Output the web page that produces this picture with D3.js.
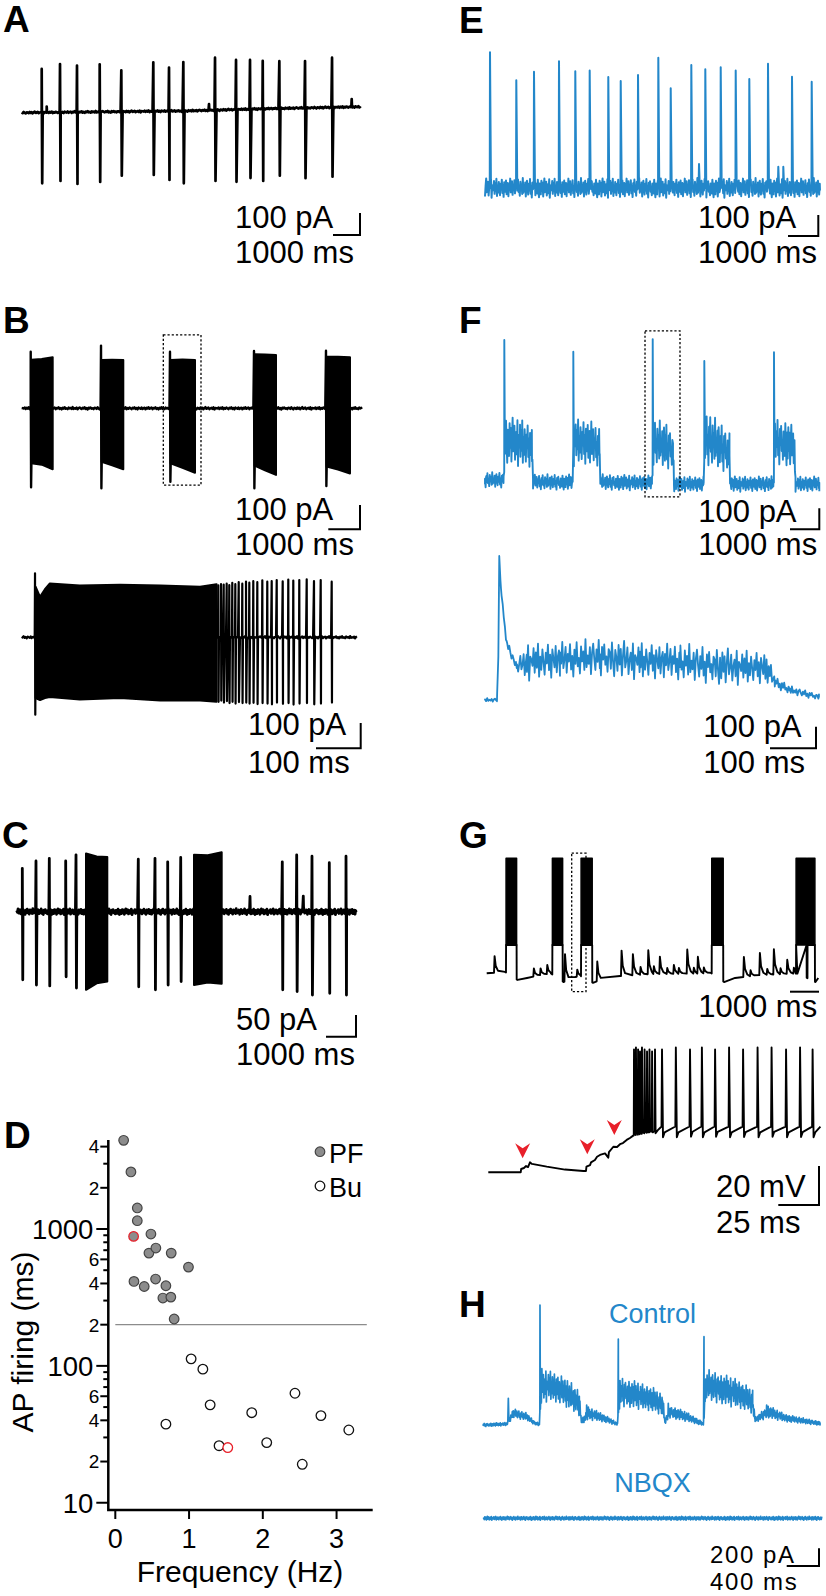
<!DOCTYPE html>
<html><head><meta charset="utf-8">
<script src="https://cdnjs.cloudflare.com/ajax/libs/d3/7.8.5/d3.min.js"></script>
<style>
body{margin:0;background:#fff}
text{font-family:"Liberation Sans",Arial,Helvetica,sans-serif}
</style></head><body>
<script>
// ---------------- DATA ----------------
// shared recording-noise texture (unitless, -1..1)
const noise = [0.32,-0.55,0.81,-0.18,-0.92,0.44,0.07,-0.63,0.71,-0.29,0.52,-0.84,0.19,0.95,-0.41,-0.06,0.63,-0.74,0.02,0.38,-0.51,0.86,-0.97,0.27,0.12,-0.22,0.69,-0.58,0.47,-0.33,0.91,-0.79,0.23,-0.45,0.6,-0.03,-0.71,0.42,-0.14,0.83,-0.49,0.31,-0.88,0.57,0.09,-0.36,0.74,-0.62,0.21,0.5,-0.81,0.39,-0.19,0.93,-0.43,0.01,0.66,-0.68,0.29,-0.11,0.78,-0.53,0.17,-0.9,0.48,-0.26,0.85,-0.39,0.04,-0.77,0.62,-0.16,0.35,-0.6,0.98,-0.47,0.13,-0.31,0.55,-0.85,0.26,0.72,-0.08,-0.65,0.41,-0.24,0.89,-0.57,0.15,-0.94,0.53,-0.12,0.67,-0.37,0.06,-0.72,0.45];

// Panel A (ms, pA)
const aEnd = 12550;
const aBaseline = [[0,0],[6000,8],[9000,18],[12550,27]];
const aSpikeT = [741,1419,2048,2889,3689,4874,5456,5986,7160,7938,8456,8927,9542,10494,11494];
const aSpikePeak = [199,221,214,220,193,229,205,230,250,240,240,236,234,235,250];
const aSpikeTrough = [-321,-310,-324,-315,-286,-283,-306,-321,-310,-314,-297,-310,-286,-298,-291];
const aBlips = [[926,27],[6937,28],[12222,36]];

// Panel B top (ms, pA)
const bEnd = 10725;
const bBurstStart = [284,2502,4678,7328,9599];
const bBurstEnd = [978,3205,5467,8022,10356];
const bBurstPeak = [233,258,233,236,237];
const bBurstTrough = [-325,-329,-302,-329,-320];
const bBurstTop = [[200,203,210],[199,200,199],[199,201,199],[222,221,219],[212,212,210]];
const bBurstBottom = [[-226,-232,-251],[-220,-235,-251],[-226,-245,-265],[-236,-255,-274],[-240,-252,-268]];
const bBox = [4467,5656,302,-316];

// Panel B bottom (ms, pA)
const b2End = 750;
const b2FirstSpike = [29.8,253,-306];
const b2BurstEnv = [[31,200,-240],[41,160,-248],[52,190,-240],[63,213,-236],[130,205,-246],[220,208,-240],[310,205,-250],[399,200,-250],[436,210,-255]];
const b2SpikeT = [439.8,445.9,451.9,458.6,464.4,471.1,477.9,485.5,493.5,501.8,509.2,518.1,527.1,538.3,549.4,559.3,570.5,583.9,596.4,607.6,621.0,637.6,653.9,668.9,693.5];
const b2SpikePeak = [205,210,208,212,206,215,210,218,212,220,216,222,218,225,220,222,226,221,228,224,226,229,222,226,220];
const b2SpikeTrough = [-255,-250,-258,-252,-260,-255,-262,-256,-260,-258,-262,-259,-264,-260,-262,-265,-258,-263,-260,-266,-262,-260,-265,-262,-258];

// Panel C (ms, pA)
const cEnd = 11310;
const cSpikeT = [187,643,1087,1633,1977,4053,4610,5033,5467,8853,9333,9843,10420,10977];
const cSpikePeak = [100,117,123,117,131,121,123,115,125,115,131,128,113,128];
const cSpikeTrough = [-157,-169,-171,-150,-176,-173,-180,-169,-161,-180,-184,-192,-188,-192];
const cBurstStart = [2310,5910];
const cBurstEnd = [3020,6833];
const cBurstTop = [[134,127,126],[131,130,137]];
const cBurstBottom = [[-180,-165,-161],[-169,-163,-166]];
const cBlips = [[7777,35],[9553,36]];

// Panel D (Hz, ms)
const pfFreq = [0.113,0.212,0.298,0.298,0.248,0.483,0.456,0.55,0.758,0.992,0.253,0.392,0.546,0.686,0.645,0.753,0.798];
const pfDur = [4446,2612,1425,1150,883,919,667,726,667,527,414,380,431,385,313,318,220];
const pfRed = [4];
const buFreq = [1.028,1.187,1.286,0.686,1.407,1.525,1.85,2.053,2.436,2.535,2.788,3.166];
const buDur = [112.5,94.6,51.9,37.5,26.1,25.3,45.5,27.5,63.1,19.1,43.3,34.0];
const buRed = [5];
const dThreshold = 200;
const dMajorTicks = [10,100,1000];
const dLabeledMinor = [20,40,60,200,400,600,2000,4000];
const dLabeledMinorText = ["2","4","6","2","4","6","2","4"];
const dMinorTicks = [30,50,70,80,90,300,500,700,800,900,3000];
const dXTicks = [0,1,2,3];

// Panel E (ms, pA)
const eEnd = 11056;
const eNoiseAmp = 48;
const eSpikeT = [165,1033,1617,2442,2980,3455,4069,4479,5050,5720,6129,6809,7271,7779,8274,8723,9340,10132,10782];
const eSpikePeak = [646,513,554,603,556,560,529,510,538,620,475,586,565,575,560,519,592,530,506];
const eSmall = [[7063,114],[9680,101],[9845,101]];

// Panel F top (ms, pA): [t, mean, noise amplitude]
const fEnd = 11410;
const fEnv = [[0,0,38],[631,0,38],[683,190,115],[1195,181,120],[1604,157,110],[1638,-10,38],[2986,-10,38],[3038,186,115],[3584,176,115],[3908,157,100],[3942,-10,38],[5700,-14,38],[5751,176,115],[6143,167,115],[6416,143,100],[6450,-19,38],[7457,-19,38],[7509,200,140],[7952,167,120],[8345,133,110],[8379,-19,38],[9846,-19,38],[9898,186,115],[10307,176,115],[10563,152,100],[10597,-19,38],[11410,-19,38]];
const fSpikeT = [659,3014,5724,7485,9863];
const fSpikePeak = [667,611,671,567,608];
const fBox = [5461,6655,710,-80];

// Panel F bottom (ms, pA): [t, mean, noise amplitude]
const f2End = 726;
const f2Env = [[0,0,9],[26,0,9],[29,200,0],[31,667,0],[34.8,509,10],[47,264,20],[69,153,20],[90.7,176,90],[163,185,90],[250,199,90],[337,181,90],[424,176,90],[511,157,90],[612,148,80],[630,83,30],[663,46,20],[726,14,15]];

// Panel G top (ms, mV)
const gBase = [[0,0],[631,0.7],[1062,-3.4],[1390,-2.4],[1838,-0.9],[2217,-0.1],[2648,-4.5],[3045,-1.9],[3234,-1.4],[3665,-4.9],[3907,-3.4],[4597,-1.4],[5631,-0.4],[7355,-0.1],[7734,0.2],[8186,-4.5],[8565,-2.4],[9427,-0.9],[10648,-0.1],[11048,-2.4],[11337,-4.5],[11434,-2.4]];
const gBurstStart = [665,2262,3252,7758,10666,11061];
const gBurstEnd = [1034,2621,3641,8158,11034,11320];
const gBurstTop = [59,59,59,59,59,59];
const gBurstPlateau = [14.5,14.5,14.5,14.5,14.5,14.5];
const gEpsp = [[252,8.5],[1607,4.1],[1838,3.4],[2069,4.6],[2680,14],[3103,3.6],[3793,10],[4631,13],[5021,10.8],[5286,4],[5552,12.3],[5745,4],[5952,8.9],[6206,3],[6434,4.6],[6607,3],[6896,12.4],[7124,3],[7262,8.6],[7469,3],[8848,10.3],[9079,3],[9400,11.4],[9654,3],[9883,12.9],[10113,3],[10344,7.2],[10573,3]];
const gBox = [2931,3424,61.6,-9.4];

// Panel G bottom (ms, mV)
const g2Base = [[0,0],[19.9,0],[20.2,1.7],[21.9,2.2],[23.2,3.2],[24.4,2.7],[25.6,5.1],[26.8,4.3],[35.9,2.9],[47.1,1.4],[58.4,0.7],[60,0.7],[60.3,2.9],[62.5,3.7],[63.1,5.1],[65.5,6.3],[66.8,8.0],[68.6,8.9],[71.7,9.7],[73.7,7.5],[74.1,10.4],[76.8,13.1],[79.1,13],[80.9,14.4],[82.7,15],[85,16.6],[87,17.6],[89,18.8],[104,21.5],[106.4,23.5],[204,23.4]];
const g2BurstT = [89.5,90.7,92.0,93.2,94.4,96.0,97.5,99.0,100.6,102.4];
const g2BurstPeak = [63,64,63,62,64,63,62,63,62,63];
const g2BurstTrough = [20,20.5,20,21,20.5,21,20.5,21,20.5,20];
const g2TonicT = [106.7,115.2,123.9,131.2,139.3,147.9,156.5,165.4,174.0,182.9,191.5,199.2];
const g2TonicPeak = [63,64,63,64,63,64,63,64,64,63,64,63];
const g2TonicTrough = [18,18,18.3,18,18.2,18,18.1,18,18.2,18,18.1,18];
const g2Arrows = [[21.1,7.2],[60.8,9.2],[77.4,19.1]];

// Panel H (ms, pA): control [t, mean, noise amplitude]
const hEnd = 4170;
const hEnv = [[0,0,19],[289,11,19],[372,132,57],[537,94,45],[640,19,19],[694,11,19],[723,452,195],[867,433,180],[1032,358,175],[1189,245,150],[1218,38,30],[1301,132,75],[1445,94,57],[1590,38,30],[1660,11,19],[1693,377,175],[1899,339,160],[2106,283,150],[2221,226,130],[2250,38,30],[2312,151,75],[2519,94,57],[2684,26,30],[2725,11,19],[2758,452,185],[2931,414,180],[3138,358,175],[3336,264,150],[3365,57,30],[3530,151,75],[3757,75,45],[4170,19,23]];
const hSpikes = [[310,301],[702,1356],[1280,226],[1672,972],[2291,245],[2733,998],[3509,226]];
const hNbqxLevel = -1054;
const hNbqxEnd = 4191;

// ---------------- DRAWING ----------------
const BLUE = "#2387ca", BLACK = "#000", RED = "#e8202a";
const svg = d3.select("body").append("svg").attr("width",826).attr("height",1596).style("display","block");

const nz = i => noise[i % noise.length];
function pw(pairs, col){
  return d3.scaleLinear().domain(pairs.map(p=>p[0])).range(pairs.map(p=>p[col])).clamp(true);
}
function samples(t0, t1, step, mean, amp, extra, seed){
  const ts = d3.range(t0, t1, step).concat(extra || [], [t1]).sort((a,b)=>a-b);
  return ts.map((t,i)=>[t, mean(t) + nz(i + seed) * amp(t)]);
}
function withEvents(pts, groups){
  const spans = groups.map(g=>[d3.min(g,d=>d[0]), d3.max(g,d=>d[0])]);
  const kept = pts.filter(p=>!spans.some(s=>p[0] >= s[0]-1e-6 && p[0] <= s[1]+1e-6));
  return kept.concat(...groups).sort((a,b)=>a[0]-b[0]);
}
function drawLine(g, pts, x, y, color, w){
  g.append("path").datum(pts)
    .attr("d", d3.line().x(d=>x(d[0])).y(d=>y(d[1])))
    .attr("fill","none").attr("stroke",color).attr("stroke-width",w)
    .attr("stroke-linejoin","round");
}
function drawBand(g, env, x, y, color, w){
  g.append("path").datum(env)
    .attr("d", d3.area().x(d=>x(d[0])).y1(d=>y(d[1])).y0(d=>y(d[2])))
    .attr("fill",color).attr("stroke",color).attr("stroke-width",w).attr("stroke-linejoin","round");
}
function dottedBox(g, box, x, y){
  g.append("rect").attr("x",x(box[0])).attr("y",y(box[2]))
    .attr("width",x(box[1])-x(box[0])).attr("height",y(box[3])-y(box[2]))
    .attr("fill","none").attr("stroke","#000").attr("stroke-width",1.3).attr("stroke-dasharray","2.2,2");
}
function scaleBar(o){
  const g = svg.append("g");
  const fs = o.fs || 31;
  let d = `M${o.x - o.h},${o.y}H${o.x}`;
  if (o.v) d += `V${o.y - o.v}`;
  g.append("path").attr("d",d).attr("fill","none").attr("stroke","#000").attr("stroke-width",2);
  if (o.l1) g.append("text").attr("x",o.tx).attr("y",o.b1).attr("font-size",fs).attr("letter-spacing",o.ls||0).text(o.l1);
  g.append("text").attr("x",o.tx).attr("y",o.b2).attr("font-size",fs).attr("letter-spacing",o.ls||0).text(o.l2);
}
function panelLabel(t, x, y){
  svg.append("text").attr("x",x).attr("y",y).attr("font-size",37).attr("font-weight","bold").text(t);
}

// ---- Panel A
{
  const g = svg.append("g");
  const x = d3.scaleLinear().domain([0,1000]).range([21.7,48.7]);
  const y = d3.scaleLinear().domain([0,100]).range([112.7,90.7]);
  const base = pw(aBaseline,1);
  const pts = samples(0, aEnd, 37, base, ()=>4, [], 0);
  const ev = aSpikeT.map((t,i)=>[[t,aSpikePeak[i]],[t+18,aSpikeTrough[i]]])
    .concat(aBlips.map(([t,a])=>[[t,base(t)+a],[t+12,base(t)]]));
  drawLine(g, withEvents(pts, ev), x, y, BLACK, 2.7);
  scaleBar({x:360, y:235, h:x(1000)-x(0), v:y(0)-y(100), tx:235, l1:"100 pA", b1:228, l2:"1000 ms", b2:263});
  panelLabel("A", 3, 32);
}

// ---- Panel E
{
  const g = svg.append("g");
  const x = d3.scaleLinear().domain([0,1000]).range([485,515.3]);
  const y = d3.scaleLinear().domain([0,100]).range([188,167]);
  const pts = samples(0, eEnd, 19.8, ()=>0, ()=>eNoiseAmp, [], 11);
  const ev = eSpikeT.map((t,i)=>[[t-8,0],[t,eSpikePeak[i]],[t+30,40]])
    .concat(eSmall.map(([t,a])=>[[t,a],[t+25,10]]));
  drawLine(g, withEvents(pts, ev), x, y, BLUE, 2);
  scaleBar({x:818.3, y:236, h:x(1000)-x(0), v:y(0)-y(100), tx:698, l1:"100 pA", b1:228.3, l2:"1000 ms", b2:263});
  panelLabel("E", 459, 33);
}

// ---- Panel B (top)
{
  const g = svg.append("g");
  const x = d3.scaleLinear().domain([0,1000]).range([21.7,53.4]);
  const y = d3.scaleLinear().domain([0,100]).range([408.3,384.0]);
  const pts = samples(0, bEnd, 31.5, ()=>0, ()=>5, [], 23);
  const ev = bBurstStart.map((t,i)=>[[t,bBurstPeak[i]],[t+12,bBurstTrough[i]],[t+22,bBurstBottom[i][0]]]);
  drawLine(g, withEvents(pts, ev), x, y, BLACK, 2.4);
  bBurstStart.forEach((t0,i)=>{
    const t1 = bBurstEnd[i];
    const env = [[t0+18, bBurstTop[i][0], bBurstBottom[i][0]],
                 [(t0+t1)/2, bBurstTop[i][1], bBurstBottom[i][1]],
                 [t1, bBurstTop[i][2], bBurstBottom[i][2]]];
    drawBand(g, env, x, y, BLACK, 2);
  });
  dottedBox(g, bBox, x, y);
  scaleBar({x:360, y:529.3, h:x(1000)-x(0), v:y(0)-y(100), tx:235, l1:"100 pA", b1:520, l2:"1000 ms", b2:555});
  panelLabel("B", 3, 333);
}

// ---- Panel B (bottom, expanded)
{
  const g = svg.append("g");
  const x = d3.scaleLinear().domain([0,100]).range([21.7,66.4]);
  const y = d3.scaleLinear().domain([0,100]).range([637.3,612.0]);
  const pts = samples(0, b2End, 2.24, ()=>0, ()=>5, [], 37);
  const ev = [[[b2FirstSpike[0],b2FirstSpike[1]],[b2FirstSpike[0]+0.6,b2FirstSpike[2]]]]
    .concat(b2SpikeT.map((t,i)=>[[t,b2SpikePeak[i]],[t+0.6,b2SpikeTrough[i]]]));
  drawLine(g, withEvents(pts, ev), x, y, BLACK, 2.2);
  drawBand(g, b2BurstEnv, x, y, BLACK, 2);
  scaleBar({x:360.7, y:748.3, h:x(100)-x(0), v:y(0)-y(100), tx:248, l1:"100 pA", b1:735, l2:"100 ms", b2:773.3});
}

// ---- Panel C
{
  const g = svg.append("g");
  const x = d3.scaleLinear().domain([0,1000]).range([16.7,46.7]);
  const y = d3.scaleLinear().domain([0,50]).range([911.7,890.0]);
  const pts = samples(0, cEnd, 23.3, ()=>0, ()=>7, [], 51);
  const ev = cSpikeT.map((t,i)=>[[t,cSpikePeak[i]],[t+15,cSpikeTrough[i]]])
    .concat(cBlips.map(([t,a])=>[[t,a],[t+12,0]]));
  drawLine(g, withEvents(pts, ev), x, y, BLACK, 2.8);
  cBurstStart.forEach((t0,i)=>{
    const t1 = cBurstEnd[i];
    drawBand(g, [[t0, cBurstTop[i][0], cBurstBottom[i][0]],
                 [(t0+t1)/2, cBurstTop[i][1], cBurstBottom[i][1]],
                 [t1, cBurstTop[i][2], cBurstBottom[i][2]]], x, y, BLACK, 2);
  });
  scaleBar({x:356, y:1036.7, h:x(1000)-x(0), v:y(0)-y(50), tx:236, l1:"50 pA", b1:1030, l2:"1000 ms", b2:1065});
  panelLabel("C", 2, 848);
}

// ---- Panel F (top)
{
  const g = svg.append("g");
  const x = d3.scaleLinear().domain([0,1000]).range([485,514.3]);
  const y = d3.scaleLinear().domain([0,100]).range([480,459]);
  const mean = pw(fEnv,1), amp = pw(fEnv,2);
  const pts = samples(0, fEnd, 20.5, mean, amp, fEnv.map(d=>d[0]), 61);
  const ev = fSpikeT.map((t,i)=>[[t,fSpikePeak[i]]]);
  drawLine(g, withEvents(pts, ev), x, y, BLUE, 1.9);
  dottedBox(g, fBox, x, y);
  scaleBar({x:819.3, y:529.3, h:x(1000)-x(0), v:y(0)-y(100), tx:698.3, l1:"100 pA", b1:521.7, l2:"1000 ms", b2:555});
  panelLabel("F", 459, 333);
}

// ---- Panel F (bottom, expanded)
{
  const g = svg.append("g");
  const x = d3.scaleLinear().domain([0,100]).range([485,531]);
  const y = d3.scaleLinear().domain([0,100]).range([700,678.4]);
  const mean = pw(f2Env,1), amp = pw(f2Env,2);
  const pts = samples(0, f2End, 2.4, mean, amp, f2Env.map(d=>d[0]), 71);
  drawLine(g, pts, x, y, BLUE, 1.8);
  scaleBar({x:816, y:748.3, h:x(100)-x(0), v:y(0)-y(100), tx:703.3, l1:"100 pA", b1:736.7, l2:"100 ms", b2:773.3});
}

// ---- Panel G (top)
{
  const g = svg.append("g");
  const x = d3.scaleLinear().domain([0,1000]).range([486.7,515.7]);
  const y = d3.scaleLinear().domain([0,20]).range([973.3,934.3]);
  const base = pw(gBase,1);
  const pts = gBase.map(d=>[d[0],d[1]]);
  const ev = gBurstStart.map((t0,i)=>{
    const t1 = gBurstEnd[i];
    return [[t0,base(t0)],[t0+3,gBurstPlateau[i]],[t1-3,gBurstPlateau[i]],[t1,base(t1)]];
  }).concat(gEpsp.map(([t,a])=>[[t,base(t)],[t+20,base(t+20)+a],[t+60,base(t+60)+a*0.4],[t+140,base(t+140)+a*0.1]]));
  drawLine(g, withEvents(pts, ev), x, y, BLACK, 1.9);
  gBurstStart.forEach((t0,i)=>{
    const t1 = gBurstEnd[i];
    drawBand(g, [[t0+3,gBurstTop[i],gBurstPlateau[i]],[t1-3,gBurstTop[i],gBurstPlateau[i]]], x, y, BLACK, 1.5);
  });
  dottedBox(g, gBox, x, y);
  scaleBar({x:819, y:991.7, h:x(1000)-x(0), v:0, tx:698.3, l2:"1000 ms", b2:1016.7});
  panelLabel("G", 459, 848);
}

// ---- Panel G (bottom, expanded)
{
  const g = svg.append("g");
  const x = d3.scaleLinear().domain([0,25]).range([488.3,529]);
  const y = d3.scaleLinear().domain([0,20]).range([1172.3,1133.3]);
  const base = pw(g2Base,1);
  const pts = g2Base.map(d=>[d[0],d[1]]);
  const ev = g2BurstT.map((t,i)=>[[t-0.15,base(t-0.15)],[t,g2BurstPeak[i]],[t+0.35,g2BurstTrough[i]]])
    .concat(g2TonicT.map((t,i)=>[[t-0.3,base(t-0.3)],[t,g2TonicPeak[i]],[t+0.6,g2TonicTrough[i]],[t+1.6,g2TonicTrough[i]+2.5]]));
  drawLine(g, withEvents(pts, ev), x, y, BLACK, 1.9);
  g.selectAll("path.arrow").data(g2Arrows).join("path").attr("class","arrow")
    .attr("transform", d=>`translate(${x(d[0])},${y(d[1])})`)
    .attr("d","M0,0L-7.5,-15L0,-10L7.5,-15Z").attr("fill",RED);
  scaleBar({x:819, y:1205, h:x(25)-x(0), v:y(0)-y(20), tx:716, l1:"20 mV", b1:1196.7, l2:"25 ms", b2:1233.3});
}

// ---- Panel H
{
  const g = svg.append("g");
  const x = d3.scaleLinear().domain([0,400]).range([483.3,515.6]);
  const y = d3.scaleLinear().domain([0,200]).range([1425,1407.3]);
  const mean = pw(hEnv,1), amp = pw(hEnv,2);
  const pts = samples(0, hEnd, 6.2, mean, amp, hEnv.map(d=>d[0]), 83);
  const ev = hSpikes.map(d=>[[d[0],d[1]]]);
  drawLine(g, withEvents(pts, ev), x, y, BLUE, 1.7);
  const nb = samples(0, hNbqxEnd, 6.2, ()=>hNbqxLevel, ()=>22, [], 5);
  drawLine(g, nb, x, y, BLUE, 1.8);
  g.append("text").attr("x",652.5).attr("y",1323.3).attr("text-anchor","middle").attr("font-size",27).attr("fill",BLUE).text("Control");
  g.append("text").attr("x",652.5).attr("y",1491.7).attr("text-anchor","middle").attr("font-size",27).attr("fill",BLUE).text("NBQX");
  scaleBar({x:819, y:1566, h:x(400)-x(0), v:y(0)-y(200), tx:710, fs:24, ls:1.6, l1:"200 pA", b1:1563, l2:"400 ms", b2:1590});
  panelLabel("H", 459, 1317);
}

// ---- Panel D (scatter)
{
  const g = svg.append("g");
  const x = d3.scaleLinear().domain([-0.095,3.49]).range([108.3,372.7]);
  const y = d3.scaleLog().domain([8.85,4470]).range([1510,1140]);
  const ax = 108.3;
  g.append("path").attr("d",`M${ax},1140V1510H372.7`).attr("fill","none").attr("stroke","#000").attr("stroke-width",2.5);
  dMajorTicks.forEach(v=>{
    g.append("line").attr("x1",ax-12).attr("x2",ax).attr("y1",y(v)).attr("y2",y(v)).attr("stroke","#000").attr("stroke-width",2);
    g.append("text").attr("x",ax-15).attr("y",y(v)).attr("dy","0.36em").attr("text-anchor","end").attr("font-size",27.5).text(v);
  });
  dLabeledMinor.forEach((v,i)=>{
    g.append("line").attr("x1",ax-8).attr("x2",ax).attr("y1",y(v)).attr("y2",y(v)).attr("stroke","#000").attr("stroke-width",2);
    g.append("text").attr("x",ax-9).attr("y",y(v)).attr("dy","0.36em").attr("text-anchor","end").attr("font-size",19).text(dLabeledMinorText[i]);
  });
  dMinorTicks.forEach(v=>{
    g.append("line").attr("x1",ax-5).attr("x2",ax).attr("y1",y(v)).attr("y2",y(v)).attr("stroke","#000").attr("stroke-width",2);
  });
  dXTicks.forEach(v=>{
    g.append("line").attr("x1",x(v)).attr("x2",x(v)).attr("y1",1510).attr("y2",1519).attr("stroke","#000").attr("stroke-width",2);
    g.append("text").attr("x",x(v)).attr("y",1548).attr("text-anchor","middle").attr("font-size",27).text(v);
  });
  g.append("line").attr("x1",x(0)).attr("x2",x(3.41)).attr("y1",y(dThreshold)).attr("y2",y(dThreshold))
    .attr("stroke","#8c8c8c").attr("stroke-width",1.3);
  const pf = pfFreq.map((f,i)=>({f, v:pfDur[i], red:pfRed.includes(i)}));
  const bu = buFreq.map((f,i)=>({f, v:buDur[i], red:buRed.includes(i)}));
  g.selectAll("circle.pf").data(pf).join("circle").attr("class","pf")
    .attr("cx",d=>x(d.f)).attr("cy",d=>y(d.v)).attr("r",4.8)
    .attr("fill","#8c8c8c").attr("stroke",d=>d.red?RED:"#444").attr("stroke-width",1.2);
  g.selectAll("circle.bu").data(bu).join("circle").attr("class","bu")
    .attr("cx",d=>x(d.f)).attr("cy",d=>y(d.v)).attr("r",4.8)
    .attr("fill","#fff").attr("stroke",d=>d.red?RED:"#111").attr("stroke-width",1.3);
  // legend
  g.append("circle").attr("cx",320).attr("cy",1151.7).attr("r",4.8).attr("fill","#8c8c8c").attr("stroke","#444").attr("stroke-width",1.2);
  g.append("text").attr("x",329).attr("y",1162.5).attr("font-size",27).text("PF");
  g.append("circle").attr("cx",320).attr("cy",1186).attr("r",4.8).attr("fill","#fff").attr("stroke","#111").attr("stroke-width",1.3);
  g.append("text").attr("x",329).attr("y",1196.7).attr("font-size",27).text("Bu");
  // titles
  g.append("text").attr("transform","translate(33,1342) rotate(-90)").attr("text-anchor","middle").attr("font-size",30).text("AP firing (ms)");
  g.append("text").attr("x",240).attr("y",1582).attr("text-anchor","middle").attr("font-size",30).text("Frequency (Hz)");
  panelLabel("D", 4, 1148);
}
</script>
</body></html>
